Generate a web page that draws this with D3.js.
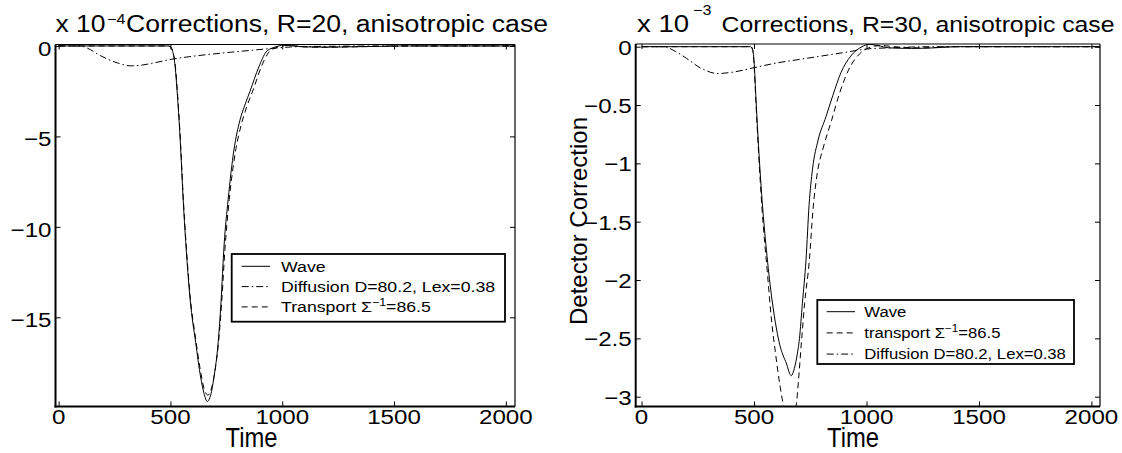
<!DOCTYPE html>
<html>
<head>
<meta charset="utf-8">
<script src="https://cdn.jsdelivr.net/npm/d3@7"></script>
<style>
  html, body { margin: 0; padding: 0; background: #fff; }
  svg { display: block; }
  text { font-family: "Liberation Sans", Arial, Helvetica, sans-serif; fill: #000; }
</style>
</head>
<body>
<svg id="fig" width="1122" height="453"></svg>
<script>
// ---- data ----
const timeTicks = [0, 500, 1000, 1500, 2000];

// R=20 panel, values in units of 1e-4
const yTicksR20 = [0, -5, -10, -15];
const waveR20 = [[0,0],[490,0],[500,-0.05],[510,-0.3],[521,-1.14],[531,-2.7],[545,-5.5],[557,-8.5],[572,-11.5],
  [588,-14.0],[613,-16.4],[635,-18.3],[650,-19.2],[665,-19.65],[680,-19.3],[696,-18.2],[712,-16.6],[726,-14.2],
  [740,-11.0],[758,-8.5],[784,-5.75],[811,-4.1],[835,-3.2],[856,-2.5],[896,-1.14],[928,-0.33],[959,-0.1],
  [985,0],[1005,0.05],[1040,0.02],[1100,-0.05],[1200,-0.07],[1300,-0.05],[1450,-0.02],[1550,0],[2040,0]];
const transportR20 = [[0,0],[490,0],[500,-0.05],[510,-0.3],[521,-1.0],[531,-2.5],[545,-5.3],[557,-8.3],[572,-11.3],
  [588,-13.8],[613,-16.2],[635,-18.0],[652,-19.0],[668,-19.3],[684,-18.9],[700,-17.9],[715,-16.4],[729,-14.2],
  [744,-11.2],[763,-8.5],[790,-5.9],[818,-4.3],[843,-3.3],[868,-2.5],[908,-1.1],[940,-0.35],[972,-0.1],
  [1000,0],[1020,0.03],[1060,0],[1100,-0.05],[1200,-0.07],[1300,-0.05],[1450,-0.02],[1550,0],[2040,0]];
const diffusionR20 = [[0,0],[100,0],[130,-0.13],[186,-0.53],[268,-0.96],[320,-1.1],[360,-1.08],[420,-0.95],
  [513,-0.72],[600,-0.57],[768,-0.35],[880,-0.22],[960,-0.13],[1050,-0.05],[1200,-0.02],[1500,0],[2040,0]];

// R=30 panel, values in units of 1e-3
const yTicksR30 = [0, -0.5, -1, -1.5, -2, -2.5, -3];
const waveR30 = [[0,0],[485,0],[493,-0.02],[500,-0.12],[509,-0.46],[520,-0.85],[536,-1.32],[558,-1.8],[580,-2.17],
  [600,-2.42],[615,-2.56],[628,-2.64],[645,-2.72],[658,-2.8],[666,-2.82],[676,-2.78],[690,-2.66],[702,-2.5],
  [715,-2.2],[731,-1.83],[745,-1.35],[760,-1.05],[785,-0.8],[820,-0.6],[850,-0.42],[887,-0.22],[930,-0.08],
  [980,0],[1010,0.02],[1050,0.01],[1100,-0.01],[1200,-0.015],[1300,-0.01],[1400,0],[2040,0]];
const transportR30 = [[0,0],[485,0],[493,-0.02],[500,-0.15],[509,-0.5],[520,-0.9],[536,-1.4],[560,-1.95],[578,-2.35],
  [595,-2.62],[615,-2.9],[633,-3.084],[655,-3.15],[686,-3.084],[698,-2.85],[710,-2.55],[725,-2.2],[746,-1.83],
  [762,-1.4],[780,-1.1],[810,-0.85],[845,-0.63],[880,-0.4],[920,-0.2],[970,-0.06],[1010,-0.01],[1035,0.005],
  [1070,0.01],[1120,0],[1250,-0.01],[1400,0],[2040,0]];
const diffusionR30 = [[0,0],[100,0],[150,-0.04],[200,-0.1],[260,-0.18],[340,-0.23],[400,-0.22],[500,-0.18],
  [600,-0.14],[700,-0.11],[800,-0.08],[900,-0.05],[1000,-0.02],[1100,-0.01],[1300,0],[2040,0]];

const legendR20 = ['Wave', 'Diffusion D=80.2, Lex=0.38', 'Transport'];
const legendR30 = ['Wave', 'transport', 'Diffusion D=80.2, Lex=0.38'];

// ---- drawing ----
const svg = d3.select('#fig');
const SX = 1.15;  // glyphs in the reference are a bit wider than tall

const dashStyles = {solid: null, dash: '6,4', dashdot: '7,3,1.5,3'};

function label(g, x, y, str, size, opts = {}) {
  const t = g.append('text')
    .attr('transform', `translate(${x},${y}) scale(${opts.sx || SX},1)`)
    .attr('text-anchor', opts.anchor || 'start')
    .style('font-size', size + 'px')
    .text(str);
  return t;
}

function panel(opts) {
  const g = svg.append('g');
  const x = d3.scaleLinear().domain(opts.xDomain).range([opts.left, opts.right]);
  const y = d3.scaleLinear().domain(opts.yDomain).range([opts.bottom, opts.top]);

  const clipId = 'clip' + opts.id;
  svg.append('clipPath').attr('id', clipId)
    .append('rect')
    .attr('x', opts.left).attr('y', opts.top)
    .attr('width', opts.right - opts.left).attr('height', opts.bottom - opts.top);

  const line = d3.line().x(d => x(d[0])).y(d => y(d[1])).curve(d3.curveMonotoneX);

  const lines = g.append('g').attr('clip-path', `url(#${clipId})`);
  opts.series.forEach(s => {
    lines.append('path')
      .datum(s.data)
      .attr('d', line)
      .attr('fill', 'none')
      .attr('stroke', '#000')
      .attr('stroke-width', 1)
      .attr('stroke-dasharray', dashStyles[s.style]);
  });

  // axes: ticks inward on all four sides, MATLAB box style
  const tl = 5;
  g.append('g').attr('transform', `translate(0,${opts.bottom})`)
    .call(d3.axisBottom(x).tickValues(timeTicks).tickSize(-tl).tickFormat(''))
    .call(a => a.select('.domain').remove());
  g.append('g').attr('transform', `translate(0,${opts.top})`)
    .call(d3.axisTop(x).tickValues(timeTicks).tickSize(-tl).tickFormat(''))
    .call(a => a.select('.domain').remove());
  g.append('g').attr('transform', `translate(${opts.left},0)`)
    .call(d3.axisLeft(y).tickValues(opts.yTicks).tickSize(-tl).tickFormat(''))
    .call(a => a.select('.domain').remove());
  g.append('g').attr('transform', `translate(${opts.right},0)`)
    .call(d3.axisRight(y).tickValues(opts.yTicks).tickSize(-tl).tickFormat(''))
    .call(a => a.select('.domain').remove());
  g.selectAll('.tick line').attr('stroke', '#000').attr('stroke-width', 1);

  g.append('line').attr('x1', opts.left).attr('x2', opts.right).attr('y1', opts.top).attr('y2', opts.top)
    .attr('stroke', '#000').attr('stroke-width', 1.2);
  g.append('line').attr('x1', opts.right).attr('x2', opts.right).attr('y1', opts.top).attr('y2', opts.bottom)
    .attr('stroke', '#000').attr('stroke-width', 1.2);
  g.append('line').attr('x1', opts.left).attr('x2', opts.left).attr('y1', opts.top).attr('y2', opts.bottom + 1)
    .attr('stroke', '#000').attr('stroke-width', 2);
  g.append('line').attr('x1', opts.left - 1).attr('x2', opts.right).attr('y1', opts.bottom).attr('y2', opts.bottom)
    .attr('stroke', '#000').attr('stroke-width', 2);

  // tick labels
  timeTicks.forEach(t => label(g, x(t), 424, String(t), 21, {anchor: 'middle'}));
  opts.yTicks.forEach(v => label(g, opts.left - 4, y(v) + opts.yLabelDy,
    String(v).replace('-', '\u2212'), 21, {anchor: 'end'}));

  label(g, opts.timeX, 447, 'Time', 28, {anchor: 'middle', sx: 0.85});

  // legend
  const L = opts.legend;
  g.append('rect')
    .attr('x', L.x).attr('y', L.y).attr('width', L.w).attr('height', L.h)
    .attr('fill', '#fff').attr('stroke', '#000').attr('stroke-width', 1.8);
  opts.legendRows.forEach((r, i) => {
    const cy = L.y + L.first + i * L.step;
    g.append('line')
      .attr('x1', L.lineX0).attr('x2', L.lineX1).attr('y1', cy).attr('y2', cy)
      .attr('stroke', '#000').attr('stroke-width', 1)
      .attr('stroke-dasharray', dashStyles[r.style]);
    const t = label(g, L.textX, cy + L.fs * 0.36, r.text, L.fs);
    if (r.sigma) {
      t.append('tspan').text(' \u03a3');
      t.append('tspan').attr('dy', -L.fs * 0.4).style('font-size', (L.fs * 0.7) + 'px').text('\u22121');
      t.append('tspan').attr('dy', L.fs * 0.4).text('=86.5');
    }
  });

  return {g, x, y};
}

// ---- left panel: R=20 ----
const p1 = panel({
  id: 'a', left: 55.5, right: 515, top: 44.5, bottom: 406.5,
  xDomain: [-14, 2041], yDomain: [-19.93, 0.08], yTicks: yTicksR20, yLabelDy: 10,
  timeX: 251.5,
  series: [
    {data: diffusionR20, style: 'dashdot'},
    {data: transportR20, style: 'dash'},
    {data: waveR20, style: 'solid'}
  ],
  legend: {x: 231.7, y: 254, w: 273.3, h: 67.7, first: 12.3, step: 20.3,
           lineX0: 241.7, lineX1: 270, textX: 281, fs: 15.4},
  legendRows: [
    {text: legendR20[0], style: 'solid'},
    {text: legendR20[1], style: 'dashdot'},
    {text: legendR20[2], style: 'dash', sigma: true}
  ]
});

// ---- right panel: R=30 ----
const p2 = panel({
  id: 'b', left: 635.7, right: 1100, top: 44, bottom: 406.5,
  xDomain: [-26, 2038], yDomain: [-3.084, 0.023], yTicks: yTicksR30, yLabelDy: 8,
  timeX: 853,
  series: [
    {data: diffusionR30, style: 'dashdot'},
    {data: transportR30, style: 'dash'},
    {data: waveR30, style: 'solid'}
  ],
  legend: {x: 817.3, y: 300, w: 256.7, h: 64, first: 11.7, step: 21.2,
           lineX0: 826.7, lineX1: 855, textX: 864.3, fs: 14.5},
  legendRows: [
    {text: legendR30[0], style: 'solid'},
    {text: legendR30[1], style: 'dash', sigma: true},
    {text: legendR30[2], style: 'dashdot'}
  ]
});

// ---- titles and exponent labels ----
label(svg, 55.5, 31.5, 'x 10', 23);
label(svg, 107, 24, '\u22124', 14);
svg.append('text')
  .attr('x', 126).attr('y', 31.5)
  .attr('textLength', 422).attr('lengthAdjust', 'spacingAndGlyphs')
  .style('font-size', '23px')
  .text('Corrections, R=20, anisotropic case');

label(svg, 637, 31.5, 'x 10', 24);
label(svg, 693, 14.5, '\u22123', 14);
svg.append('text')
  .attr('x', 721.5).attr('y', 31.5)
  .attr('textLength', 393).attr('lengthAdjust', 'spacingAndGlyphs')
  .style('font-size', '22.5px')
  .text('Corrections, R=30, anisotropic case');

// y label of the right panel
svg.append('text')
  .attr('transform', 'translate(587,221) rotate(-90)')
  .attr('text-anchor', 'middle')
  .style('font-size', '24px')
  .text('Detector Correction');
</script>
</body>
</html>
